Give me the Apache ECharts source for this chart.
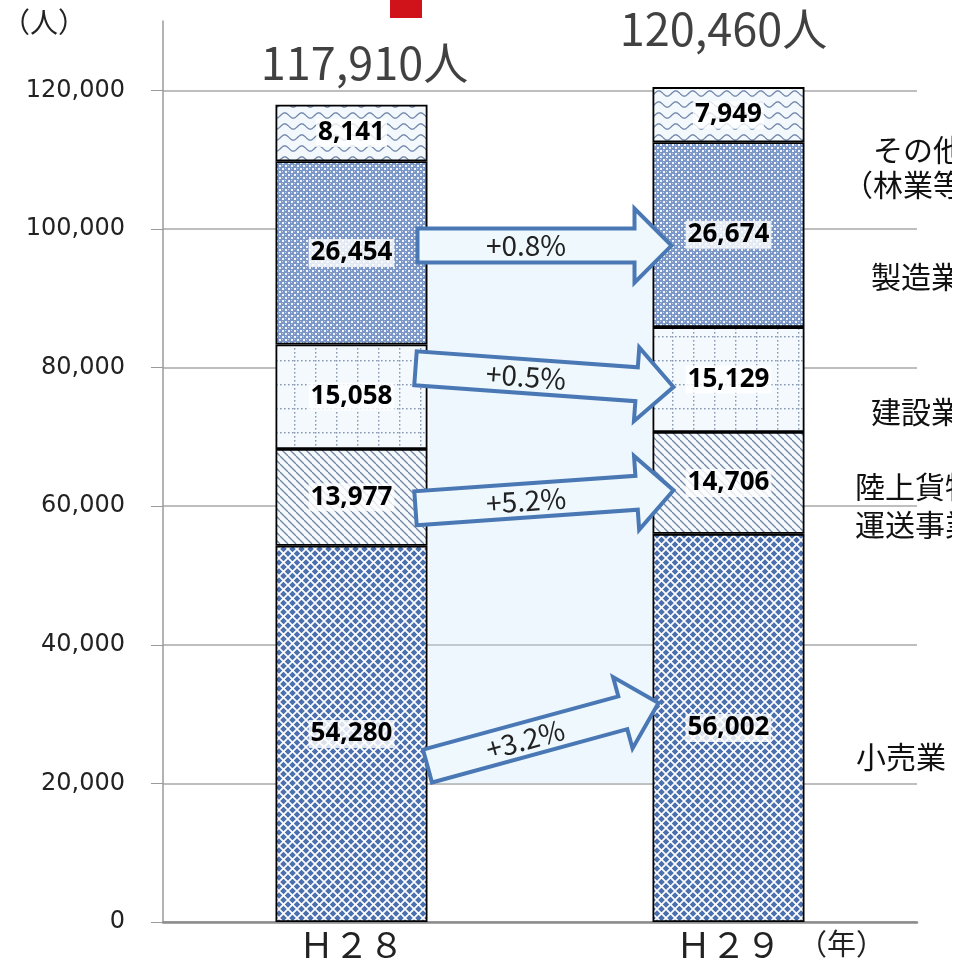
<!DOCTYPE html>
<html><head><meta charset="utf-8">
<script src="https://cdn.jsdelivr.net/npm/echarts@6/dist/echarts.min.js"></script>
<style>html,body{margin:0;padding:0;background:#fff}#c{width:961px;height:964px}</style>
</head><body><div id="c"></div>
<script>
// ---- data ----
const categories = ['Ｈ２８', 'Ｈ２９'];
const seriesNames = ['小売業', '陸上貨物運送事業', '建設業', '製造業', 'その他（林業等）'];
const retail = [54280, 56002];
const trucking = [13977, 14706];
const construction = [15058, 15129];
const manufacturing = [26454, 26674];
const others = [8141, 7949];
const sideLabelLines = [['その他', '（林業等）'], ['製造業'], ['建設業'], ['陸上貨物', '運送事業'], ['小売業']];
const unitY = '（人）';
const unitX = '（年）';

const stacks = [retail, trucking, construction, manufacturing, others];
const totals = categories.map((c, i) => stacks.reduce((s, a) => s + a[i], 0));

// ---- pattern tiles (style) ----
function tile(w, h, draw) {
  const c = document.createElement('canvas'); c.width = w; c.height = h;
  const g = c.getContext('2d'); draw(g, w, h); return c;
}
const retailTile = tile(9, 9, (g, w, h) => {
  g.fillStyle = '#4b70ae'; g.fillRect(0, 0, w, h);
  g.strokeStyle = '#ffffff'; g.lineWidth = 1.7;
  for (const k of [-9, 0, 9]) {
    g.beginPath(); g.moveTo(k, 0); g.lineTo(k + 9, 9); g.stroke();
    g.beginPath(); g.moveTo(k + 9, 0); g.lineTo(k, 9); g.stroke();
  }
});
const truckTile = tile(8, 8, (g, w, h) => {
  g.fillStyle = '#f5f9fc'; g.fillRect(0, 0, w, h);
  g.strokeStyle = '#7186a6'; g.lineWidth = 1.3;
  for (const k of [-8, 0, 8]) { g.beginPath(); g.moveTo(k, 0); g.lineTo(k + 8, 8); g.stroke(); }
});
const constTile = tile(21, 24, (g, w, h) => {
  g.fillStyle = '#f3f9fd'; g.fillRect(0, 0, w, h);
  g.fillStyle = '#8797b2';
  for (let y = 0; y < h; y += 4) g.fillRect(0, y, 1.4, 1.6);
  for (let x = 3; x < w; x += 4) g.fillRect(x, 0, 1.6, 1.4);
});
const manuTile = tile(6, 6, (g, w, h) => {
  g.fillStyle = '#7b97c8'; g.fillRect(0, 0, w, h);
  g.fillStyle = '#f2f6fb';
  g.fillRect(0, 0, 2, 2); g.fillRect(3, 3, 2, 2);
  g.fillStyle = '#c0cfe7';
  g.fillRect(3, 0, 1, 1); g.fillRect(0, 3, 1, 1);
});
const otherTile = tile(17, 11, (g, w, h) => {
  g.fillStyle = '#f3f8fc'; g.fillRect(0, 0, w, h);
  g.strokeStyle = '#6f86aa'; g.lineWidth = 1.3;
  g.beginPath();
  for (let x = 0; x <= w; x += 0.5) {
    const y = 5.5 + 2.6 * Math.sin(2 * Math.PI * x / w);
    if (x === 0) g.moveTo(x, y); else g.lineTo(x, y);
  }
  g.stroke();
});
const tiles = [retailTile, truckTile, constTile, manuTile, otherTile];

const chart = echarts.init(document.getElementById('c'), null, { renderer: 'canvas' });

const barSeries = stacks.map((arr, k) => ({
  name: seriesNames[k],
  type: 'bar',
  stack: 'total',
  barWidth: 152,
  data: arr,
  z: 3,
  itemStyle: { color: { image: tiles[k], repeat: 'repeat' }, borderColor: '#000', borderWidth: 1.8 },
  label: {
    show: true, position: 'inside',
    formatter: p => Number(p.value).toLocaleString('en-US'),
    fontSize: 26, fontWeight: 'bold', color: '#000', fontFamily: 'Noto Sans',
    backgroundColor: 'rgba(255,255,255,0.8)', padding: [0, 2], lineHeight: 28
  },
  emphasis: { disabled: true }
}));

const totalOffsets = [[13, -42], [-5, -58]];
const totalSeries = {
  type: 'scatter', symbolSize: 1, z: 6,
  itemStyle: { color: 'rgba(0,0,0,0)' },
  data: totals.map((t, i) => ({ value: [i, t], label: { offset: totalOffsets[i] } })),
  label: {
    show: true, position: 'inside',
    formatter: p => p.value[1].toLocaleString('en-US') + '人',
    fontSize: 45, color: '#111', fontFamily: 'Noto Sans CJK JP'
  },
  emphasis: { disabled: true }
};

chart.setOption({
  animation: false,
  backgroundColor: '#fff',
  grid: { left: 163, right: 44, top: 21, bottom: 42 },
  xAxis: {
    type: 'category', data: categories,
    axisLine: { lineStyle: { color: '#8c8c8c', width: 2.5 } },
    axisTick: { show: false },
    axisLabel: { fontSize: 35, color: '#222', margin: 5, fontFamily: 'Noto Sans CJK JP' }
  },
  yAxis: {
    type: 'value', min: 0, max: 130000, interval: 20000,
    axisLine: { show: true, lineStyle: { color: '#9a9a9a', width: 1.5 } },
    axisTick: { show: true, length: 12, lineStyle: { color: '#9a9a9a' } },
    axisLabel: {
      showMaxLabel: false, margin: 38, fontSize: 24, color: '#222', fontFamily: 'DejaVu Sans',
      formatter: v => v.toLocaleString('en-US')
    },
    splitLine: { show: true, showMaxLine: false, lineStyle: { color: '#a8a8a8', width: 1.5 } }
  },
  series: [...barSeries, totalSeries]
});

// ---- annotations (arrows, band, side labels) ----
const px = (i, v) => chart.convertToPixel({ gridIndex: 0 }, [i, v]);
const halfBar = 76;
const leftEdge = px(0, 0)[0] + halfBar;
const rightEdge = px(1, 0)[0] - halfBar;

function arrowPoints(S, T, hw, hh, hl) {
  const dx = T[0] - S[0], dy = T[1] - S[1], L = Math.hypot(dx, dy);
  const ux = dx / L, uy = dy / L, nx = -uy, ny = ux;
  const H = [T[0] - ux * hl, T[1] - uy * hl];
  return {
    pts: [[S[0] + nx * hw, S[1] + ny * hw], [H[0] + nx * hw, H[1] + ny * hw], [H[0] + nx * hh, H[1] + ny * hh], T,
      [H[0] - nx * hh, H[1] - ny * hh], [H[0] - nx * hw, H[1] - ny * hw], [S[0] - nx * hw, S[1] - ny * hw]],
    mid: [(S[0] + H[0]) / 2, (S[1] + H[1]) / 2],
    angle: -Math.atan2(dy, dx)
  };
}
const pairs = [manufacturing, construction, trucking, retail];
const arrowGeom = [
  { y0: 97600, y1: 97600, dx0: -10, dx1: 19 },
  { y0: 79900, y1: 77200, dx0: -12, dx1: 21 },
  { y0: 59700, y1: 62300, dx0: -12, dx1: 21 },
  { y0: 22500, y1: 31600, dx0: 0, dx1: 6 }
];
const graphics = [];
const b0 = px(0, 100000)[1], b1 = px(0, 20000)[1];
graphics.push({ type: 'rect', z: 1, shape: { x: leftEdge + 1, y: b0, width: rightEdge - leftEdge - 2, height: b1 - b0 },
  style: { fill: 'rgba(200,230,248,0.3)' } });
arrowGeom.forEach((a, k) => {
  const arr = pairs[k];
  const pct = (arr[1] - arr[0]) / arr[0] * 100;
  const S = [leftEdge + a.dx0, px(0, a.y0)[1]];
  const T = [rightEdge + a.dx1, px(0, a.y1)[1]];
  const g = arrowPoints(S, T, 17, 37, 37);
  graphics.push({ type: 'polygon', z: 50, shape: { points: g.pts },
    style: { fill: '#eff8fd', stroke: '#4a78b5', lineWidth: 4, lineJoin: 'miter' } });
  graphics.push({ type: 'text', z: 51, x: g.mid[0], y: g.mid[1], rotation: g.angle,
    style: { text: (pct >= 0 ? '+' : '') + pct.toFixed(1) + '%', fontSize: 28, fontFamily: 'Noto Sans CJK JP',
      fill: '#222', align: 'center', verticalAlign: 'middle' } });
});
const sidePos = [[[873, 150], [843, 185]], [[871, 277]], [[871, 412]], [[855, 487], [855, 525]], [[856, 757]]];
sideLabelLines.forEach((lines, k) => lines.forEach((t, j) => {
  graphics.push({ type: 'text', z: 20, x: sidePos[k][j][0], y: sidePos[k][j][1],
    style: { text: t, fontSize: 30, fontFamily: 'Noto Sans CJK JP', fill: '#111', align: 'left', verticalAlign: 'middle' } });
}));
graphics.push({ type: 'text', z: 20, x: 2, y: 22,
  style: { text: unitY, fontSize: 28, fontFamily: 'Noto Sans CJK JP', fill: '#222', align: 'left', verticalAlign: 'middle' } });
graphics.push({ type: 'text', z: 20, x: 798, y: 944,
  style: { text: unitX, fontSize: 29, fontFamily: 'Noto Sans CJK JP', fill: '#222', align: 'left', verticalAlign: 'middle' } });
graphics.push({ type: 'rect', z: 20, shape: { x: 390, y: 0, width: 32, height: 18 }, style: { fill: '#d0121b' } });
graphics.push({ type: 'rect', z: 60, shape: { x: 952, y: 0, width: 9, height: 964 }, style: { fill: '#fff' } });
chart.setOption({ graphic: graphics });
</script>
</body></html>
